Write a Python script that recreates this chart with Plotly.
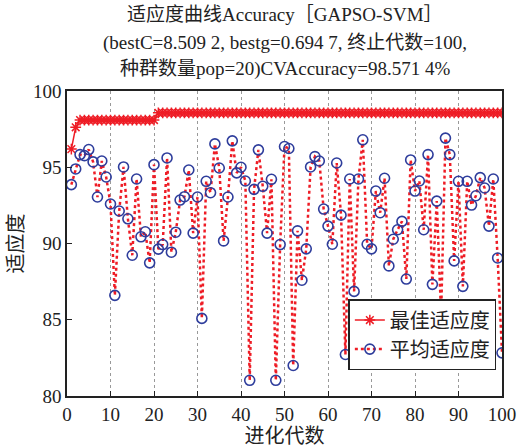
import plotly.graph_objects as go

generations = list(range(1, 101))

best_fitness = [96.1905, 97.6190] + [98.0952] * 18 + [98.5714] * 80

mean_fitness = [
    93.86, 94.89, 95.83, 95.76, 96.16, 95.35, 93.05, 95.41, 94.36, 92.59,
    86.60, 92.13, 95.02, 91.62, 89.23, 94.23, 90.44, 90.77, 88.73, 95.17,
    89.63, 89.93, 95.61, 89.43, 90.74, 92.85, 93.07, 94.82, 90.68, 93.05,
    85.09, 94.08, 93.33, 96.53, 94.95, 90.17, 93.05, 96.73, 94.63, 95.00,
    94.10, 81.03, 93.55, 96.14, 93.75, 90.68, 94.21, 81.03, 89.93, 96.36,
    96.23, 82.00, 90.83, 87.59, 89.65, 95.02, 95.70, 95.41, 92.26, 91.14,
    89.95, 95.28, 91.86, 82.72, 94.23, 86.86, 94.23, 96.80, 89.95, 89.65,
    93.44, 92.02, 94.28, 88.53, 90.28, 90.90, 91.45, 87.67, 95.48, 93.44,
    94.10, 90.90, 95.83, 87.32, 92.78, 85.30, 96.91, 95.83, 88.86, 94.08,
    87.19, 94.08, 92.52, 93.13, 94.32, 93.64, 91.14, 94.23, 89.05, 82.83,
]

x_ticks = [0, 10, 20, 30, 40, 50, 60, 70, 80, 90, 100]
y_ticks = [80, 85, 90, 95, 100]

title_lines = [
    "适应度曲线Accuracy［GAPSO-SVM］",
    "(bestC=8.509 2, bestg=0.694 7, 终止代数=100,",
    "种群数量pop=20)CVAccuracy=98.571 4%",
]
legend_names = ["最佳适应度", "平均适应度"]
x_title = "进化代数"
y_title = "适应度"

FONT = "Liberation Serif, Times New Roman, Noto Sans CJK SC, serif"
RED = "#ee1c25"
BLUE = "#2e3d9c"

fig = go.Figure()
fig.add_trace(go.Scatter(
    x=generations, y=best_fitness, name=legend_names[0], mode="lines+markers",
    line=dict(color=RED, width=1.5),
    marker=dict(symbol="asterisk-open", size=9, color=RED,
                line=dict(color=RED, width=1.5)),
))
fig.add_trace(go.Scatter(
    x=generations, y=mean_fitness, name=legend_names[1], mode="lines+markers",
    line=dict(color=RED, width=2.5, dash="dot"),
    marker=dict(symbol="circle-open", size=10, color=BLUE,
                line=dict(color=BLUE, width=1.6)),
))

for i, t in enumerate(title_lines):
    fig.add_annotation(
        text=t, xref="paper", yref="paper", x=0.5, xanchor="center",
        y=[1.25, 1.157, 1.072][i], yanchor="middle", showarrow=False,
        font=dict(family=FONT, size=19, color="#222"),
    )

fig.update_layout(
    width=517, height=448,
    margin=dict(l=67, r=15, t=91, b=52, autoexpand=False),
    paper_bgcolor="white", plot_bgcolor="white",
    font=dict(family=FONT, size=19, color="#222"),
    showlegend=True,
    legend=dict(
        x=0.987, y=0.085, xanchor="right", yanchor="bottom",
        bgcolor="white", bordercolor="#222", borderwidth=1.5,
        font=dict(family=FONT, size=20, color="#222"),
        tracegroupgap=0, itemwidth=30,
    ),
)
fig.update_xaxes(
    range=[0, 100], tickvals=x_ticks, ticks="inside", ticklen=5,
    tickcolor="#222", showline=True, linecolor="#222", linewidth=1.5,
    mirror=True, showgrid=True, gridcolor="#999", griddash="dot", gridwidth=1,
    zeroline=False, automargin=False,
    title=dict(text=x_title, standoff=2, font=dict(family=FONT, size=20)),
    tickfont=dict(family=FONT, size=19),
)
fig.update_yaxes(
    range=[80, 100], tickvals=y_ticks, ticks="inside", ticklen=5,
    tickcolor="#222", showline=True, linecolor="#222", linewidth=1.5,
    mirror=True, showgrid=False, zeroline=False, automargin=False,
    title=dict(text=y_title, standoff=4, font=dict(family=FONT, size=20)),
    tickfont=dict(family=FONT, size=19),
)

fig.write_html("out.html")
